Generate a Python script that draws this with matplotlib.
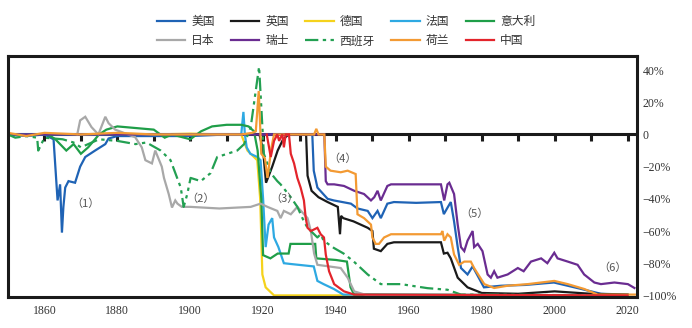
import matplotlib
matplotlib.use("Agg")
import matplotlib.pyplot as plt
from matplotlib.markers import TICKDOWN

plt.rcParams['font.family'] = ['Liberation Serif', 'Noto Sans CJK SC', 'DejaVu Sans']

# ---------------- data (year, cumulative change %) ----------------
us_years = [1850, 1855, 1860, 1862.5, 1863.6, 1864.3, 1864.8, 1865.2, 1865.7, 1866.6, 1868.4, 1869.8,
            1871.2, 1873.9, 1876.7, 1877.6, 1880, 1890, 1900, 1910, 1919, 1925, 1933.5, 1933.9, 1934.9,
            1937.7, 1939.4, 1944.1, 1945.9, 1948.7, 1950, 1951.4, 1952.3, 1954.1, 1955.9, 1962, 1968.8,
            1969.6, 1970.6, 1971.5, 1972.4, 1973.4, 1974.3, 1976.1, 1977.5, 1980.6, 1985.3, 1992,
            1999.8, 2007.3, 2012.7, 2020]
us_vals = [0, -1, 0, -3, -41, -31, -61, -45, -33, -29, -30, -20,
           -14, -10, -6, -2.5, -1, -1, -1, 0, 0, 0, 0, -22.5, -33,
           -40, -41, -43, -46, -47.5, -52, -47.5, -52, -43, -42, -42.5, -42,
           -49.5, -45.5, -42, -54, -70, -83, -87, -82, -95, -94, -93.5,
           -92, -96, -99, -99.5]

uk_years = [1850, 1870, 1900, 1919, 1920, 1920.8, 1921.5, 1922.5, 1924, 1925.5, 1927, 1931.8, 1932.2,
            1933.3, 1935.2, 1937.7, 1940.5, 1941.1, 1941.4, 1942, 1944.8, 1948.7, 1950, 1950.4, 1952.3,
            1954.1, 1955.9, 1968.8, 1969.6, 1970.6, 1971.5, 1973.4, 1976.1, 1980, 1990, 2000, 2010, 2020]
uk_vals = [0, 0, 0, 0, -10, -30, -26, -20, -10, -3, 0, 0, -25.6,
           -35, -39, -42, -45, -62, -50.6, -52, -54, -58, -60, -71, -72.5,
           -68, -67, -67, -74, -73.5, -77, -89, -95, -98.5, -99, -97.5, -99, -99.5]

de_years = [1870, 1880, 1890, 1900, 1910, 1914, 1915.7, 1918.4, 1919.2, 1919.8, 1920.7, 1923, 2020]
de_vals = [0, 0.5, 0, 0.5, 0, 0, -10, -16, -40, -87, -95, -100, -100]

fr_years = [1850, 1870, 1900, 1914, 1914.6, 1915, 1915.5, 1916.5, 1918.4, 1919.3, 1920, 1920.7,
            1921.5, 1922.5, 1923, 1924.2, 1925.7, 1927.6, 1933.9, 1934.9, 1936.6, 1939.4, 1942, 2020]
fr_vals = [0, 0, 0, 0, 14, 0, -8, -12, -14, -16, -40, -70,
           -56, -52, -64, -70, -80, -80.5, -82, -91, -93, -96, -99.5, -100]

it_years = [1861, 1863, 1866, 1868, 1870, 1872, 1875, 1877, 1880, 1885, 1890, 1893, 1895, 1900,
            1903, 1906, 1910, 1914, 1916, 1917.5, 1918.5, 1919.5, 1920, 1922, 1924, 1927, 1927.5,
            1934.3, 1934.6, 1940, 1943, 1944, 1945, 2020]
it_vals = [0, -3, -10, -6, -12, -8, 0, 3, 5, 4, 3, -2, 0, -3,
           2, 5, 6, 6, 5, 2, -10, -40, -75, -77, -74, -74, -68,
           -68, -77, -78, -79, -95, -99.5, -100]

jp_years = [1869, 1869.8, 1871.2, 1872.9, 1874.8, 1876.7, 1877.6, 1879.4, 1881.2, 1884.9, 1886.7,
            1887.7, 1889.5, 1890.4, 1892.2, 1892.8, 1894.1, 1895.0, 1895.9, 1896.5, 1897.7, 1900.1,
            1908, 1916.6, 1919.3, 1921.2, 1923.9, 1924.8, 1925.7, 1927.6, 1929.4, 1932.2, 1933.1,
            1934.0, 1934.9, 1941.3, 1943.2, 1945.0, 1948.7, 2020]
jp_vals = [0, 8.75, 11, 4.6, 0, 11, 7, 3, 1.5, -1.7, -8,
           -16, -18, -10, -20, -27, -37, -45.4, -41, -43, -45, -45,
           -46, -45, -43, -45, -47.5, -52, -47.5, -49.6, -45, -52, -60,
           -74, -81, -83, -89, -97.5, -100, -100]

ch_years = [1850, 1900, 1936.8, 1937.2, 1937.7, 1939.5, 1942.2, 1945.0, 1947.7, 1949.6, 1950.5,
            1951.4, 1952.3, 1954.1, 1955.1, 1968.8, 1969.7, 1970.6, 1971.1, 1972.4, 1973.4, 1974.3,
            1975.2, 1976.1, 1977.5, 1977.9, 1978.9, 1980.2, 1981.6, 1982.5, 1983.4, 1984.3, 1987.1,
            1989.9, 1991.5, 1993.5, 1996.3, 1998, 1999.9, 2000.8, 2003.6, 2006.3, 2008.1, 2010.9,
            2012.7, 2016.4, 2020.1, 2021.9]
ch_vals = [0, 0, 0, -29, -31, -31, -32, -35, -37, -41, -39,
           -35, -41, -32, -31, -31, -41, -31, -30, -37, -56, -70,
           -72.5, -66, -60, -70, -68, -72.5, -87, -89, -85, -89, -87,
           -83, -85, -79, -77, -80, -73.5, -77, -79, -81, -87, -92,
           -93, -92, -93, -95.4]

es_years = [1850, 1852, 1855, 1858, 1858.3, 1860, 1865, 1868, 1870, 1875, 1880, 1885, 1888, 1891.9,
            1894.6, 1897.4, 1898.2, 1899.2, 1900.1, 1902.9, 1905.6, 1907.4, 1910.2, 1912.9, 1914.8,
            1916.6, 1918.4, 1918.9, 1919.3, 1920.2, 1922.1, 1923.9, 1924.8, 1927.6, 1929.4, 1931.2,
            1932.2, 1934.9, 1935.8, 1936.6, 1939.4, 1942.1, 1944.9, 1948.7, 1952.3, 1957.8, 1965.1,
            1970.6, 1974.3, 2020]
es_vals = [0, -2, -1, -2, -10, -2, -3, -5, -8, -3, -4, -6, -5, -10,
           -16, -33, -45, -37, -27, -29, -24, -14, -12, -10, -6,
           4.5, 34, 42, 25.6, -12, -24, -29, -31, -39, -45, -54,
           -58, -64, -62, -66, -70.5, -74, -79, -87, -93, -93, -95.5,
           -96.5, -99.5, -100]

nl_years = [1850, 1855, 1860, 1870, 1880, 1890, 1900, 1910, 1914, 1917, 1918, 1918.8, 1919.5, 1920.5,
            1921.2, 1921.6, 1922.3, 1923, 1930, 1934, 1934.6, 1935.2, 1936.8, 1937.2, 1938.5, 1941.3,
            1943.2, 1945.4, 1945.9, 1947.7, 1949.6, 1950, 1950.9, 1951.8, 1953.2, 1955.1, 1968.8,
            1969.2, 1969.7, 1970.6, 1971.5, 1972.4, 1973.8, 1975.2, 1977, 1977.9, 1980.7, 1983.4,
            1987.1, 1992.6, 1999.9, 2003.6, 2008.1, 2011.8, 2020, 2022]
nl_vals = [1, -1, 1, 0, 1, 0, 0, 0, 0, 1, 2, 27, -12, -15,
           -27, -20, -8, 0, 0, 0, 3.5, 0, 0, -20, -22.5, -23.5,
           -22.5, -24.6, -49.6, -52, -56, -64, -68, -68, -64, -62, -62,
           -60, -66, -62, -64, -74.6, -81, -79, -79, -83, -93, -95.4,
           -94, -93, -91, -93, -96, -99.5, -99.5, -99.5]

cn_years = [1921.0, 1922.1, 1923.0, 1923.9, 1924.4, 1924.8, 1925.3, 1925.7, 1926.2, 1927.1, 1927.6,
            1928.5, 1929.4, 1930.3, 1931.2, 1931.7, 1932.2, 1933.1, 1934.9, 1935.8, 1936.7, 1937.2,
            1938.1, 1939.5, 1942.2, 1945.0, 2020]
cn_vals = [0, -14, -4, 0, -4, -2, 0, -8, 0, 0, -12,
           -18, -27, -33, -41, -52, -58, -60, -58, -62, -64, -74.6,
           -85, -93, -97.5, -99.5, -100]

series_names = ['美国', '英国', '德国', '法国', '意大利', '日本', '瑞士', '西班牙', '荷兰', '中国']
series_years = [us_years, uk_years, de_years, fr_years, it_years, jp_years, ch_years, es_years, nl_years, cn_years]
series_vals = [us_vals, uk_vals, de_vals, fr_vals, it_vals, jp_vals, ch_vals, es_vals, nl_vals, cn_vals]
series_colors = ['#1f63b5', '#1a1a1a', '#f5d21c', '#2ea9e2', '#1f9e48', '#a8a8a8', '#6a2c91', '#23a052',
                 '#f39a33', '#e3242b']
series_styles = ['-', '-', '-', '-', '-', '-', '-', (0, (6, 2, 1.5, 2, 1.5, 2)), '-', '-']

annot_labels = ['（1）', '（2）', '（3）', '（4）', '（5）', '（6）']
annot_x = [1871.3, 1902.9, 1925.9, 1941.9, 1977.9, 2015.8]
annot_y = [-43, -40, -40, -15, -49, -83]

y_ticks = [40, 20, 0, -20, -40, -60, -80, -100]
y_labels = ['40%', '20%', '0', '−20%', '−40%', '−60%', '−80%', '−100%']
x_ticks = [1860, 1880, 1900, 1920, 1940, 1960, 1980, 2000, 2020]
zero_ticks = list(range(1860, 2021, 10))

# ---------------- figure ----------------
fig = plt.figure(figsize=(6.92, 3.28), dpi=100)
ax = fig.add_axes([8 / 692, 31 / 328, 629 / 692, 241 / 328])
ax.set_xlim(1850, 2022.6)
ax.set_ylim(-101, 48.75)

# zero line with downward tick marks every 10 years (beneath data lines)
ax.axhline(0, color='#1a1a1a', lw=2.2, zorder=1)
ax.plot(zero_ticks, [0] * len(zero_ticks), ls='none', marker=TICKDOWN, ms=5, mew=2.2,
        color='#1a1a1a', zorder=1)

handles = []
for name, yrs, vals, col, ls in zip(series_names, series_years, series_vals, series_colors, series_styles):
    ln, = ax.plot(yrs, vals, color=col, lw=1.6, ls=ls, solid_joinstyle='miter', label=name, zorder=2)
    handles.append(ln)

for s in ax.spines.values():
    s.set_linewidth(2.2)
    s.set_color('#1a1a1a')

ax.set_xticks(x_ticks)
ax.tick_params(axis='x', length=0, pad=6, labelsize=8.5, labelcolor='#333333')
ax.yaxis.tick_right()
ax.set_yticks(y_ticks)
ax.set_yticklabels(y_labels)
ax.tick_params(axis='y', length=0, pad=4, labelsize=8.5, labelcolor='#333333')

for t, x, y in zip(annot_labels, annot_x, annot_y):
    ax.text(x, y, t, ha='center', va='center', fontsize=8, color='#555555',
            family=['Noto Sans CJK SC', 'DejaVu Sans'])

# legend filled row by row (matplotlib fills column-major)
ncol = 5
order = [r * ncol + c for c in range(ncol) for r in range(2)]
leg = fig.legend(handles=[handles[i] for i in order], ncol=ncol, loc='center',
                 bbox_to_anchor=(0.5, 0.905), frameon=False, handlelength=2.4,
                 handletextpad=0.5, columnspacing=1.4, labelspacing=0.55,
                 prop={'family': ['Noto Sans CJK SC', 'DejaVu Sans'], 'size': 8.5})
for txt in leg.get_texts():
    txt.set_color('#333333')

fig.savefig('out.png', dpi=100, facecolor='white')
